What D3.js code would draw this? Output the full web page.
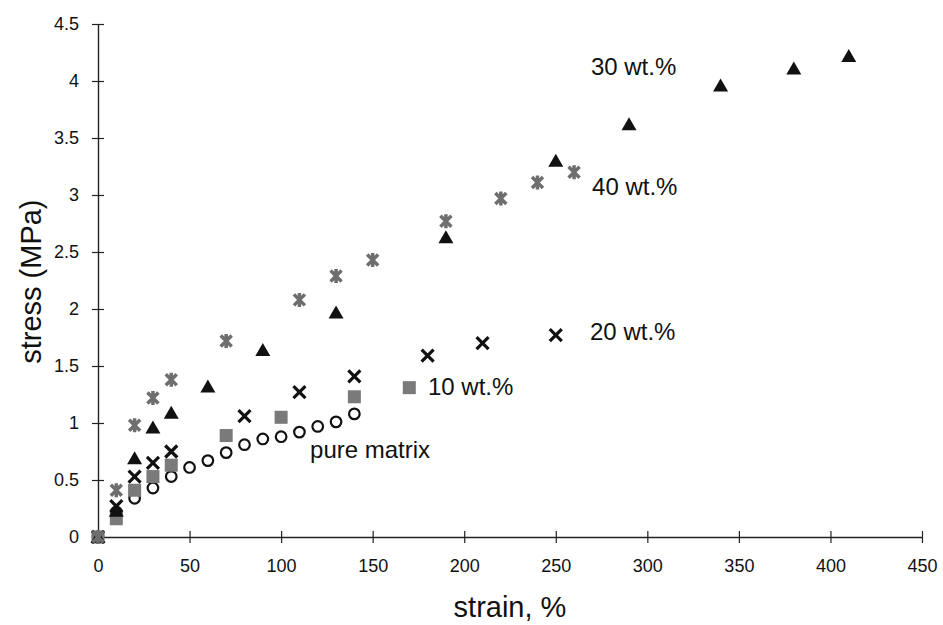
<!DOCTYPE html>
<meta charset="utf-8">
<script src="https://d3js.org/d3.v7.min.js"></script>
<style>
  body { margin: 0; background: #fff; }
  text { font-family: "Liberation Sans", Arial, sans-serif; fill: #111; }
</style>
<div id="my_dataviz"></div>
<script>

// data (strain in %, stress in MPa)
var pureStrain = [0, 10, 20, 30, 40, 50, 60, 70, 80, 90, 100, 110, 120, 130, 140];
var pureStress = [0, 0.22, 0.34, 0.43, 0.53, 0.61, 0.67, 0.74, 0.81, 0.86, 0.88, 0.92, 0.97, 1.01, 1.08];

var wt10Strain = [0, 10, 20, 30, 40, 70, 100, 140, 170];
var wt10Stress = [0, 0.16, 0.41, 0.53, 0.63, 0.89, 1.05, 1.23, 1.31];

var wt20Strain = [0, 10, 20, 30, 40, 80, 110, 140, 180, 210, 250];
var wt20Stress = [0, 0.27, 0.53, 0.65, 0.75, 1.06, 1.27, 1.41, 1.59, 1.70, 1.77];

var wt30Strain = [0, 10, 20, 30, 40, 60, 90, 130, 190, 250, 290, 340, 380, 410];
var wt30Stress = [0, 0.23, 0.69, 0.96, 1.09, 1.32, 1.64, 1.97, 2.63, 3.30, 3.62, 3.96, 4.11, 4.22];

var wt40Strain = [0, 10, 20, 30, 40, 70, 110, 130, 150, 190, 220, 240, 260];
var wt40Stress = [0, 0.41, 0.98, 1.22, 1.38, 1.72, 2.08, 2.29, 2.43, 2.77, 2.97, 3.11, 3.20];

var xTicks = [0, 50, 100, 150, 200, 250, 300, 350, 400, 450];
var yTicks = [0, 0.5, 1, 1.5, 2, 2.5, 3, 3.5, 4, 4.5];

// series labels, anchored in data units
var labelText = ["30 wt.%", "40 wt.%", "20 wt.%", "10 wt.%", "pure matrix"];
var labelStrain = [269.2, 269.8, 268.7, 180.2, 115.8];
var labelStress = [4.05, 3.0, 1.73, 1.25, 0.69];

var W = 943, H = 625;
var margin = {top: 24, right: 21, bottom: 88, left: 98},
    width = W - margin.left - margin.right,
    height = H - margin.top - margin.bottom;

var svg = d3.select("#my_dataviz")
  .append("svg")
    .attr("width", W)
    .attr("height", H)
  .append("g")
    .attr("transform", "translate(" + margin.left + "," + margin.top + ")");

var x = d3.scaleLinear().domain([0, 450]).range([0, width]);
var y = d3.scaleLinear().domain([0, 4.5]).range([height, 0]);

// X axis with ticks crossing the line
var xAxis = svg.append("g")
  .attr("transform", "translate(0," + height + ")")
  .call(d3.axisBottom(x).tickValues(xTicks).tickFormat(d3.format("")).tickSizeOuter(0));
xAxis.select(".domain").attr("stroke", "#222").attr("stroke-width", 1.4);
xAxis.selectAll(".tick line").attr("y1", -6).attr("y2", 6).attr("stroke", "#222").attr("stroke-width", 1.2);
xAxis.selectAll(".tick text").attr("y", 22).attr("font-size", 18).style("font-family", "Liberation Sans, Arial, sans-serif");

// Y axis
var yAxis = svg.append("g")
  .call(d3.axisLeft(y).tickValues(yTicks).tickFormat(d3.format("")).tickSizeOuter(0));
yAxis.select(".domain").attr("stroke", "#222").attr("stroke-width", 1.4);
yAxis.selectAll(".tick line").attr("x1", -6).attr("x2", 6).attr("stroke", "#222").attr("stroke-width", 1.2);
yAxis.selectAll(".tick text").attr("x", -19).attr("font-size", 18).style("font-family", "Liberation Sans, Arial, sans-serif");

// axis titles
svg.append("text")
  .attr("x", 412)
  .attr("y", 593)
  .attr("text-anchor", "middle")
  .attr("font-size", 29)
  .text("strain, %");

svg.append("text")
  .attr("transform", "translate(" + (-57) + "," + (y(2.24)) + ") rotate(-90)")
  .attr("text-anchor", "middle")
  .attr("font-size", 29)
  .text("stress (MPa)");

function pts(xs, ys) {
  return xs.map(function(d, i) { return {x: d, y: ys[i]}; });
}

// pure matrix: open circles
svg.append("g").selectAll("circle")
  .data(pts(pureStrain, pureStress))
  .enter().append("circle")
    .attr("cx", function(d) { return x(d.x); })
    .attr("cy", function(d) { return y(d.y); })
    .attr("r", 5.3)
    .attr("fill", "none")
    .attr("stroke", "#111")
    .attr("stroke-width", 2.2);

// 10 wt.%: grey squares
svg.append("g").selectAll("rect")
  .data(pts(wt10Strain, wt10Stress))
  .enter().append("rect")
    .attr("x", function(d) { return x(d.x) - 6.5; })
    .attr("y", function(d) { return y(d.y) - 6.5; })
    .attr("width", 13)
    .attr("height", 13)
    .attr("fill", "#7a7a7a");

// 20 wt.%: black crosses
svg.append("g").selectAll("path")
  .data(pts(wt20Strain, wt20Stress))
  .enter().append("path")
    .attr("transform", function(d) { return "translate(" + x(d.x) + "," + y(d.y) + ")"; })
    .attr("d", "M-6,-6L6,6M-6,6L6,-6")
    .attr("stroke", "#111")
    .attr("stroke-width", 3.2)
    .attr("fill", "none");

// 30 wt.%: black triangles
svg.append("g").selectAll("path")
  .data(pts(wt30Strain, wt30Stress))
  .enter().append("path")
    .attr("transform", function(d) { return "translate(" + x(d.x) + "," + y(d.y) + ")"; })
    .attr("d", "M0,-7L7.5,6L-7.5,6Z")
    .attr("fill", "#111");

// 40 wt.%: grey asterisks
svg.append("g").selectAll("path")
  .data(pts(wt40Strain, wt40Stress))
  .enter().append("path")
    .attr("transform", function(d) { return "translate(" + x(d.x) + "," + y(d.y) + ")"; })
    .attr("d", "M-5.5,-5.5L5.5,5.5M-5.5,5.5L5.5,-5.5M0,-7L0,7")
    .attr("stroke", "#6e6e6e")
    .attr("stroke-width", 3.5)
    .attr("fill", "none");

// series labels
svg.append("g").selectAll("text")
  .data(labelText)
  .enter().append("text")
    .attr("x", function(d, i) { return x(labelStrain[i]); })
    .attr("y", function(d, i) { return y(labelStress[i]); })
    .attr("font-size", 24)
    .text(function(d) { return d; });

</script>
